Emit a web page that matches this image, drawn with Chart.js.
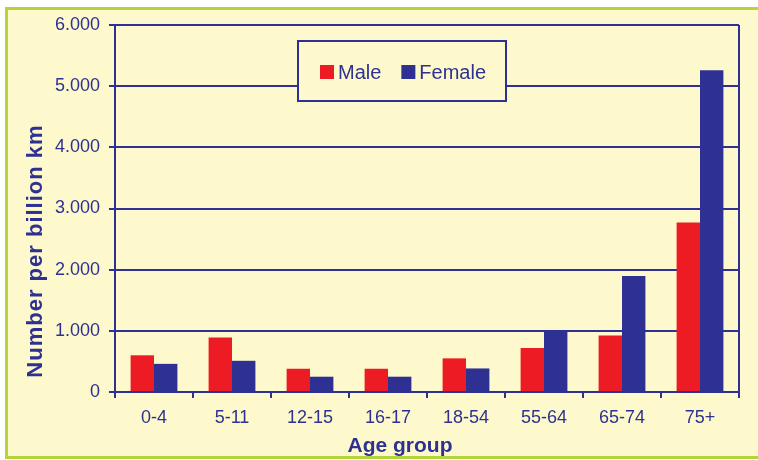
<!DOCTYPE html>
<html>
<head>
<meta charset="utf-8">
<script src="https://cdn.jsdelivr.net/npm/chart.js@4.4.1/dist/chart.umd.min.js"></script>
<style>
    html, body { margin: 0; padding: 0; background: #fff; }
</style>
</head>
<body>
<canvas id="chart" width="758" height="460"></canvas>
<script>
// Chart data
const ageGroups = ['0-4', '5-11', '12-15', '16-17', '18-54', '55-64', '65-74', '75+'];
const maleValues = [600, 890, 380, 380, 550, 720, 925, 2770];
const femaleValues = [460, 510, 250, 250, 385, 1000, 1895, 5260];
const yTickLabels = ['0', '1.000', '2.000', '3.000', '4.000', '5.000', '6.000'];
const xTitle = 'Age group';
const yTitle = 'Number per billion km';

const navy = '#2e3192';
const red = '#ed1c24';
const cream = '#fdf9cc';
const green = '#b5d33a';
const fontFamily = '"Liberation Sans", Arial, sans-serif';

Chart.defaults.font.family = fontFamily;

// Background with green frame
const framePlugin = {
    id: 'frame',
    beforeDraw(chart) {
        const ctx = chart.ctx;
        ctx.save();
        ctx.fillStyle = '#ffffff';
        ctx.fillRect(0, 0, chart.width, chart.height);
        ctx.fillStyle = cream;
        ctx.fillRect(6, 7, chart.width - 6, chart.height - 9);
        ctx.strokeStyle = green;
        ctx.lineWidth = 3;
        ctx.beginPath();
        ctx.moveTo(chart.width, 8.5);
        ctx.lineTo(6.5, 8.5);
        ctx.lineTo(6.5, 457.5);
        ctx.lineTo(chart.width, 457.5);
        ctx.stroke();
        ctx.restore();
    }
};

// Right edge of the plot area
const plotBorderPlugin = {
    id: 'plotBorder',
    beforeDatasetsDraw(chart) {
        const {ctx, chartArea} = chart;
        ctx.save();
        ctx.strokeStyle = navy;
        ctx.lineWidth = 2;
        ctx.beginPath();
        ctx.moveTo(chartArea.right, chartArea.top);
        ctx.lineTo(chartArea.right, chartArea.bottom + 6);
        ctx.stroke();
        ctx.restore();
    }
};

// Axis titles (the original sits off-centre, so they are placed by hand)
const axisTitlePlugin = {
    id: 'axisTitles',
    afterDraw(chart) {
        const ctx = chart.ctx;
        ctx.save();
        ctx.fillStyle = navy;
        ctx.textAlign = 'center';
        ctx.textBaseline = 'middle';

        ctx.font = 'bold 21px ' + fontFamily;
        ctx.fillText(xTitle, 400, 446);

        ctx.font = 'bold 22px ' + fontFamily;
        ctx.letterSpacing = '1px';
        ctx.translate(36, 251);
        ctx.rotate(-Math.PI / 2);
        ctx.fillText(yTitle, 0, 0);
        ctx.restore();
    }
};

// Boxed legend inside the plot
const boxLegendPlugin = {
    id: 'boxLegend',
    afterDatasetsDraw(chart) {
        const ctx = chart.ctx;
        const box = {x: 298, y: 41, w: 208, h: 60};
        ctx.save();
        ctx.fillStyle = cream;
        ctx.fillRect(box.x, box.y, box.w, box.h);
        ctx.strokeStyle = navy;
        ctx.lineWidth = 2;
        ctx.strokeRect(box.x, box.y, box.w, box.h);

        ctx.font = '20px ' + fontFamily;
        ctx.textBaseline = 'alphabetic';
        ctx.textAlign = 'left';
        let x = 320;
        chart.data.datasets.forEach(ds => {
            ctx.fillStyle = ds.backgroundColor;
            ctx.fillRect(x, 65, 14, 14);
            ctx.fillStyle = navy;
            ctx.fillText(ds.label, x + 18, 79);
            x += 18 + ctx.measureText(ds.label).width + 20;
        });
        ctx.restore();
    }
};

new Chart(document.getElementById('chart'), {
    type: 'bar',
    data: {
        labels: ageGroups,
        datasets: [
            {
                label: 'Male',
                data: maleValues,
                backgroundColor: red,
                barPercentage: 1.0,
                categoryPercentage: 0.6
            },
            {
                label: 'Female',
                data: femaleValues,
                backgroundColor: navy,
                barPercentage: 1.0,
                categoryPercentage: 0.6
            }
        ]
    },
    options: {
        responsive: false,
        animation: false,
        layout: { padding: { left: 12, right: 19, top: 25, bottom: 0 } },
        plugins: {
            legend: { display: false },
            tooltip: { enabled: false }
        },
        scales: {
            x: {
                ticks: { color: navy, font: { size: 18 }, padding: 9 },
                grid: { drawOnChartArea: false, color: navy, lineWidth: 2, tickLength: 6, offset: true },
                border: { color: navy, width: 2 },
                afterFit: scale => { scale.height = 68; }
            },
            y: {
                min: 0,
                max: 6000,
                ticks: {
                    stepSize: 1000,
                    color: navy,
                    font: { size: 18 },
                    padding: 9,
                    callback: (value, index) => yTickLabels[index]
                },
                grid: { color: navy, lineWidth: 2, tickLength: 6 },
                border: { color: navy, width: 2 },
                afterFit: scale => { scale.width = 103; }
            }
        }
    },
    plugins: [framePlugin, plotBorderPlugin, boxLegendPlugin, axisTitlePlugin]
});
</script>
</body>
</html>
